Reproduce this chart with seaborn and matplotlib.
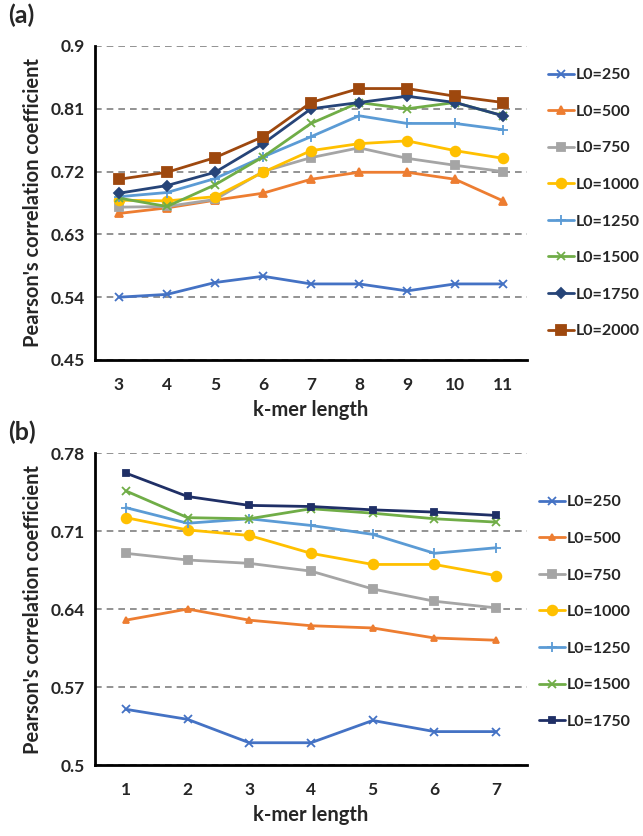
import numpy as np
import pandas as pd
import seaborn as sns
import matplotlib.pyplot as plt

sns.set_style("white")
plt.rcParams['font.family'] = ['Lato', 'DejaVu Sans']
plt.rcParams['font.weight'] = 'bold'

# panel (a): k-mer length 3..11
kmer_a = [3, 4, 5, 6, 7, 8, 9, 10, 11]
a_250 = [0.540, 0.544, 0.561, 0.570, 0.559, 0.559, 0.549, 0.559, 0.559]
a_500 = [0.660, 0.668, 0.679, 0.689, 0.709, 0.719, 0.719, 0.709, 0.678]
a_750 = [0.669, 0.670, 0.680, 0.720, 0.740, 0.754, 0.739, 0.729, 0.720]
a_1000 = [0.679, 0.678, 0.684, 0.719, 0.750, 0.760, 0.764, 0.750, 0.739]
a_1250 = [0.684, 0.690, 0.710, 0.741, 0.770, 0.800, 0.789, 0.789, 0.780]
a_1500 = [0.682, 0.670, 0.701, 0.741, 0.789, 0.819, 0.810, 0.819, 0.800]
a_1750 = [0.689, 0.700, 0.719, 0.760, 0.810, 0.819, 0.828, 0.819, 0.800]
a_2000 = [0.709, 0.719, 0.740, 0.770, 0.819, 0.839, 0.839, 0.828, 0.819]

# panel (b): k-mer length 1..7
kmer_b = [1, 2, 3, 4, 5, 6, 7]
b_250 = [0.550, 0.541, 0.520, 0.520, 0.540, 0.530, 0.530]
b_500 = [0.630, 0.640, 0.630, 0.625, 0.623, 0.614, 0.612]
b_750 = [0.690, 0.684, 0.681, 0.674, 0.658, 0.647, 0.641]
b_1000 = [0.722, 0.711, 0.706, 0.690, 0.680, 0.680, 0.670]
b_1250 = [0.731, 0.717, 0.721, 0.715, 0.707, 0.690, 0.695]
b_1500 = [0.746, 0.722, 0.721, 0.730, 0.726, 0.721, 0.718]
b_1750 = [0.762, 0.741, 0.733, 0.732, 0.729, 0.727, 0.724]

# label, colour, marker, markersize (a), markersize (b)
styles = {
    'L0=250': ('#4472C4', 'x', 6, 6),
    'L0=500': ('#ED7D31', '^', 6, 5),
    'L0=750': ('#A5A5A5', 's', 6, 6),
    'L0=1000': ('#FFC000', 'o', 7, 7),
    'L0=1250': ('#5B9BD5', '+', 7, 7),
    'L0=1500': ('#70AD47', 'x', 6, 6),
    'L0=1750': ('#264478', 'D', 5, 4),
    'L0=2000': ('#9E480E', 's', 7, 7),
}
series_a = dict(zip(styles.keys(), [a_250, a_500, a_750, a_1000, a_1250, a_1500, a_1750, a_2000]))
series_b = dict(zip(list(styles.keys())[:7], [b_250, b_500, b_750, b_1000, b_1250, b_1500, b_1750]))

fig = plt.figure(figsize=(6.43, 8.36), dpi=100)
ax_a = fig.add_axes([0.1477, 0.5694, 0.672, 0.3756])
ax_b = fig.add_axes([0.1477, 0.0849, 0.672, 0.3732])


def draw(ax, kmer, series, idx, yticks, xlim, leg_y, leg_x):
    for name, vals in series.items():
        color, marker, ms_a, ms_b = styles[name]
        ms = ms_a if idx == 0 else ms_b
        if name == 'L0=1750' and idx == 1:
            marker, color = 's', '#1F2F66'
        sns.lineplot(x=kmer, y=vals, ax=ax, color=color, marker=marker,
                     markersize=ms, markeredgecolor=color, markeredgewidth=1.3,
                     linewidth=2, label=name)
    ax.set_ylim(yticks[0], yticks[-1])
    ax.set_yticks(yticks)
    ax.set_yticklabels([('%.2f' % t).rstrip('0').rstrip('.') if t != 0.5 else '0.5' for t in yticks])
    ax.set_xlim(*xlim)
    ax.set_xticks(kmer)
    ax.yaxis.grid(True, linestyle=(0, (4, 3)), color='#808080', linewidth=1.2)
    ax.xaxis.grid(False)
    sns.despine(ax=ax)
    for s in ['left', 'bottom']:
        ax.spines[s].set_linewidth(2)
        ax.spines[s].set_color('black')
    ax.tick_params(axis='both', direction='out', length=4, width=1.5, labelsize=12.5, color='black')
    ax.tick_params(axis='x', pad=8)
    ax.set_xlabel('k-mer length', fontsize=14.5, fontweight='bold', labelpad=5)
    ax.set_ylabel("Pearson's correlation coefficient", fontsize=14.5, fontweight='bold', labelpad=5)
    for lab in ax.get_xticklabels() + ax.get_yticklabels():
        lab.set_fontweight('bold')
    ax.legend(loc='center left', bbox_to_anchor=(leg_x, leg_y), bbox_transform=fig.transFigure,
              frameon=False, handlelength=1.6, handletextpad=0.1, labelspacing=1.4,
              borderpad=0, prop={'size': 11.5, 'weight': 'bold'})


draw(ax_a, kmer_a, series_a, 0, [0.45, 0.54, 0.63, 0.72, 0.81, 0.9], (2.5, 11.5), 0.757, 0.840)
draw(ax_b, kmer_b, series_b, 1, [0.5, 0.57, 0.64, 0.71, 0.78], (0.5, 7.5), 0.268, 0.826)

fig.text(0.012, 0.982, '(a)', fontsize=18, fontweight='bold', va='center')
fig.text(0.012, 0.483, '(b)', fontsize=18, fontweight='bold', va='center')

fig.savefig('out.png', dpi=100)
